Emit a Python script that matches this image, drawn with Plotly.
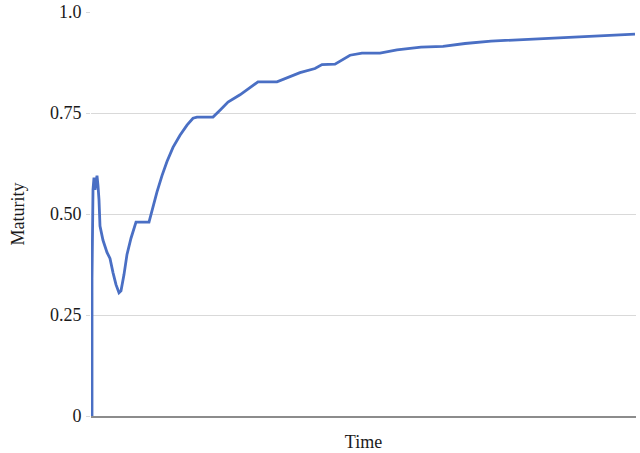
import plotly.graph_objects as go

time = [1, 1, 2, 3, 4, 5, 6, 7, 8, 9, 12, 16, 19, 22, 25, 28, 30, 33, 36, 40, 45, 58, 61, 66, 71,
        76, 82, 89, 96, 102, 106, 122, 129, 137, 149, 159, 167, 186, 199, 209, 224, 231, 244,
        254, 259, 271, 289, 306, 330, 352, 374, 400, 439, 475, 506, 544]
maturity = [0.0, 0.34, 0.56, 0.59, 0.56, 0.58, 0.595, 0.57, 0.535, 0.47, 0.435, 0.405, 0.39,
            0.355, 0.325, 0.305, 0.31, 0.35, 0.40, 0.44, 0.48, 0.48, 0.51, 0.555, 0.595, 0.63,
            0.665, 0.695, 0.72, 0.737, 0.74, 0.74, 0.757, 0.777, 0.795, 0.812, 0.827, 0.827,
            0.84, 0.85, 0.86, 0.87, 0.871, 0.886, 0.893, 0.898, 0.898, 0.906, 0.913, 0.915,
            0.922, 0.928, 0.933, 0.937, 0.941, 0.945]

ytickvals = [0, 0.25, 0.5, 0.75, 1.0]
yticktext = ["0", "0.25", "0.50", "0.75", "1.0"]

fig = go.Figure()
fig.add_trace(go.Scatter(x=time, y=maturity, mode="lines",
                         line=dict(color="#4a6fc4", width=2.8), showlegend=False))

font = "Liberation Serif, Times New Roman, serif"
fig.update_layout(
    width=640, height=453,
    margin=dict(l=91, r=4, t=12, b=37),
    paper_bgcolor="white", plot_bgcolor="white",
    font=dict(family=font, size=18, color="#1a1a1a"),
    xaxis=dict(range=[0, 545], showticklabels=False, showgrid=False, zeroline=False,
               showline=True, linecolor="#8c8c8c", linewidth=2, ticks="", automargin=False,
               title=dict(text="Time", font=dict(family=font, size=18, color="#1a1a1a"), standoff=18)),
    yaxis=dict(range=[0, 1.0], tickvals=ytickvals, ticktext=yticktext, automargin=False,
               showgrid=True, gridcolor="#d9d9d9", gridwidth=1, zeroline=False,
               showline=False, ticks="outside", ticklen=4, tickcolor="#d9d9d9",
               ticklabelstandoff=1,
               title=dict(text="Maturity", font=dict(family=font, size=18, color="#1a1a1a"), standoff=20)),
)
fig.write_html("out.html", config={"displayModeBar": False},
               post_script="document.body.style.margin='0';")
